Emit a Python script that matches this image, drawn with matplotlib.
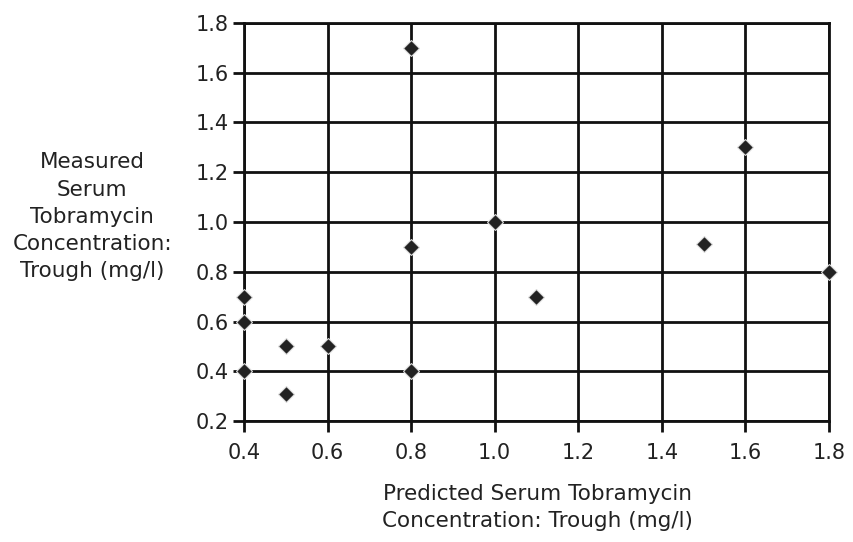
import matplotlib
matplotlib.use("Agg")
import matplotlib.pyplot as plt

# predicted vs measured trough tobramycin (mg/l)
predicted = [0.4, 0.4, 0.4, 0.5, 0.5, 0.6, 0.8, 0.8, 0.8, 1.0, 1.1, 1.5, 1.6, 1.8]
measured = [0.7, 0.6, 0.4, 0.5, 0.31, 0.5, 1.7, 0.9, 0.4, 1.0, 0.7, 0.91, 1.3, 0.8]

x_ticks = [0.4, 0.6, 0.8, 1.0, 1.2, 1.4, 1.6, 1.8]
y_ticks = [0.2, 0.4, 0.6, 0.8, 1.0, 1.2, 1.4, 1.6, 1.8]

fig = plt.figure(figsize=(8.54, 5.42), dpi=100)
ax = fig.add_axes([0.2857, 0.2232, 0.685, 0.7344])

ax.set_xlim(0.4, 1.8)
ax.set_ylim(0.2, 1.8)
ax.set_xticks(x_ticks)
ax.set_yticks(y_ticks)
ax.set_xticklabels([f"{v:.1f}" for v in x_ticks])
ax.set_yticklabels([f"{v:.1f}" for v in y_ticks])
ax.grid(True, color="#111111", linewidth=2.0)
ax.set_axisbelow(True)
for sp in ax.spines.values():
    sp.set_linewidth(2.0)
    sp.set_color("#111111")
ax.tick_params(direction="out", length=8, width=2, color="#111111",
               labelsize=15, labelcolor="#222222")
ax.tick_params(axis="x", pad=8)
ax.tick_params(axis="y", pad=3)

ax.plot(predicted, measured, linestyle="none", marker="D", markersize=8,
        color="#222222", markeredgecolor="#dddddd", markeredgewidth=0.8,
        clip_on=False, zorder=5)

fig.text(0.108, 0.600, "Measured\nSerum\nTobramycin\nConcentration:\nTrough (mg/l)",
         ha="center", va="center", fontsize=15.5, color="#222222", linespacing=1.45)
fig.text(0.629, 0.064, "Predicted Serum Tobramycin\nConcentration: Trough (mg/l)",
         ha="center", va="center", fontsize=15.5, color="#222222", linespacing=1.45)

fig.savefig("out.png", dpi=100)
